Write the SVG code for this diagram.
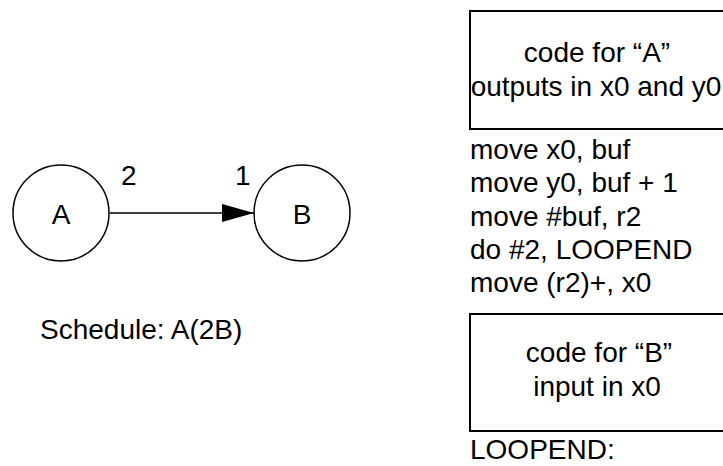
<svg xmlns="http://www.w3.org/2000/svg" width="723" height="466" viewBox="0 0 723 466">
<style>
text{font-family:"Liberation Sans",Arial,sans-serif;font-size:28px;fill:#000}
.node{fill:#fff;stroke:#000;stroke-width:1.5}
.box{fill:none;stroke:#000;stroke-width:2}
.edge{stroke:#000;stroke-width:1.5;fill:none}
.mid{text-anchor:middle}
</style>
<defs>
<marker id="arr" markerUnits="userSpaceOnUse" markerWidth="32" markerHeight="18" refX="32" refY="9" orient="auto">
<path d="M0,0 L32,9 L0,18 Z" fill="#000"/>
</marker>
</defs>
<g id="connectors">
<line class="edge" x1="110" y1="213" x2="254" y2="213" marker-end="url(#arr)"/>
<text x="121" y="185">2</text>
<text x="235" y="185">1</text>
</g>
<g id="nodeA">
<circle class="node" cx="61" cy="213" r="48"/>
<text class="mid" x="61" y="224">A</text>
</g>
<g id="nodeB">
<circle class="node" cx="302" cy="213" r="48"/>
<text class="mid" x="302" y="224">B</text>
</g>
<g id="schedule">
<text x="40" y="339">Schedule: A(2B)</text>
</g>
<g id="codeA">
<rect class="box" x="470" y="11" width="270" height="118"/>
<text class="mid" x="597" y="62">code for “A”</text>
<text class="mid" x="596" y="96">outputs in x0 and y0</text>
</g>
<g id="code">
<text x="470" y="159">move x0, buf</text>
<text x="470" y="192">move y0, buf + 1</text>
<text x="470" y="226">move #buf, r2</text>
<text x="470" y="259">do #2, LOOPEND</text>
<text x="470" y="292">move (r2)+, x0</text>
</g>
<g id="codeB">
<rect class="box" x="470" y="314" width="270" height="117"/>
<text class="mid" x="599" y="362">code for “B”</text>
<text class="mid" x="597" y="396">input in x0</text>
</g>
<g id="loopend">
<text x="470" y="459">LOOPEND:</text>
</g>
</svg>
